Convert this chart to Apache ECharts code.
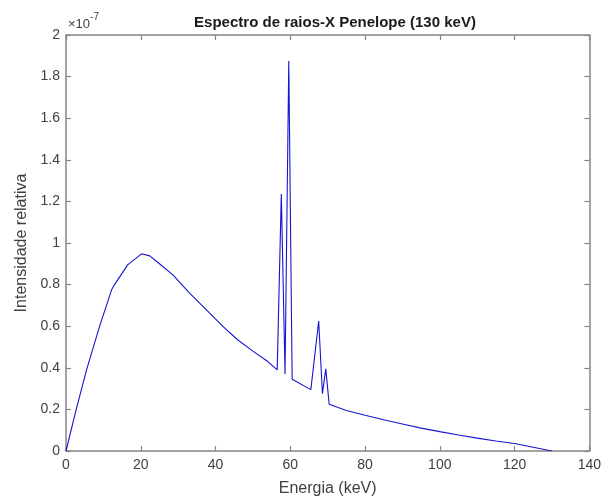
<!DOCTYPE html>
<html>
<head>
<meta charset="utf-8">
<script src="https://cdn.jsdelivr.net/npm/echarts@6/dist/echarts.min.js"></script>
<style>
  html, body { margin: 0; padding: 0; background: #ffffff; }
  #chart { width: 604px; height: 504px; }
</style>
</head>
<body>
<div id="chart"></div>
<script>
// Penelope simulated X-ray spectrum, 130 kV tube (intensities in units of 1e-7)
const energy = [
  0, 2.6, 5.5, 9, 12.2, 13, 16.5, 20.2, 22.4, 25, 28.6, 33, 37.5, 41.9, 45.9,
  50, 54, 56.5, 57.6, 58.6, 59.6, 60.5, 65.5, 67.6, 68.6, 69.5, 70.4,
  75, 80, 85, 90, 95, 100, 105, 110, 115, 120, 130
];
const intensity = [
  0, 0.19, 0.39, 0.6, 0.775, 0.8, 0.895, 0.948, 0.938, 0.9, 0.847, 0.76, 0.68, 0.6, 0.535,
  0.48, 0.43, 0.39, 1.235, 0.37, 1.875, 0.345, 0.295, 0.625, 0.275, 0.395, 0.225,
  0.195, 0.172, 0.15, 0.13, 0.11, 0.093, 0.077, 0.062, 0.048, 0.036, 0
];
const xTicks = { min: 0, max: 140, interval: 20 };
const yTicks = { min: 0, max: 2, interval: 0.2 };

const points = energy.map((e, i) => [e, intensity[i]]);

const frameColor = '#868686';
const textColor = '#404040';
const fontFamily = 'Liberation Sans, Arial, sans-serif';

const chart = echarts.init(document.getElementById('chart'));

function xAxisDef(pos, showLabels) {
  return {
    type: 'value', position: pos, min: xTicks.min, max: xTicks.max, interval: xTicks.interval,
    axisLine: { show: true, onZero: false, lineStyle: { color: frameColor, width: 1.5 } },
    axisTick: { show: true, inside: true, length: 5, lineStyle: { color: frameColor, width: 1.2 } },
    splitLine: { show: false },
    axisLabel: { show: showLabels, color: textColor, fontSize: 14, fontFamily, margin: 7 },
    name: showLabels ? 'Energia (keV)' : '',
    nameLocation: 'middle', nameGap: 30,
    nameTextStyle: { color: textColor, fontSize: 16, fontFamily }
  };
}
function yAxisDef(pos, showLabels) {
  return {
    type: 'value', position: pos, min: yTicks.min, max: yTicks.max, interval: yTicks.interval,
    axisLine: { show: true, onZero: false, lineStyle: { color: frameColor, width: 1.5 } },
    axisTick: { show: true, inside: true, length: 5, lineStyle: { color: frameColor, width: 1.2 } },
    splitLine: { show: false },
    axisLabel: { show: showLabels, color: textColor, fontSize: 14, fontFamily, margin: 6 },
    name: showLabels ? 'Intensidade relativa' : '',
    nameLocation: 'middle', nameGap: 35, nameRotate: 90,
    nameTextStyle: { color: textColor, fontSize: 16, fontFamily }
  };
}

chart.setOption({
  animation: false,
  backgroundColor: '#ffffff',
  title: {
    text: 'Espectro de raios-X Penelope (130 keV)',
    left: 330, top: 10, textAlign: 'center',
    textStyle: { color: '#1a1a1a', fontSize: 15, fontWeight: 'bold', fontFamily }
  },
  grid: { left: 66, right: 13, top: 35, bottom: 53, containLabel: false },
  xAxis: [xAxisDef('bottom', true), xAxisDef('top', false)],
  yAxis: [yAxisDef('left', true), yAxisDef('right', false)],
  graphic: [{
    type: 'text', left: 68, top: 12,
    style: {
      text: '{a|×10}{b|-7}',
      rich: {
        a: { fontSize: 13, fill: textColor, fontFamily, padding: [6, 0, 0, 0] },
        b: { fontSize: 10, fill: textColor, fontFamily, verticalAlign: 'top' }
      }
    }
  }],
  series: [{
    type: 'line', xAxisIndex: 0, yAxisIndex: 0,
    data: points, showSymbol: false, symbol: 'none',
    lineStyle: { color: '#1414d2', width: 1.1 }
  }]
});
</script>
</body>
</html>
